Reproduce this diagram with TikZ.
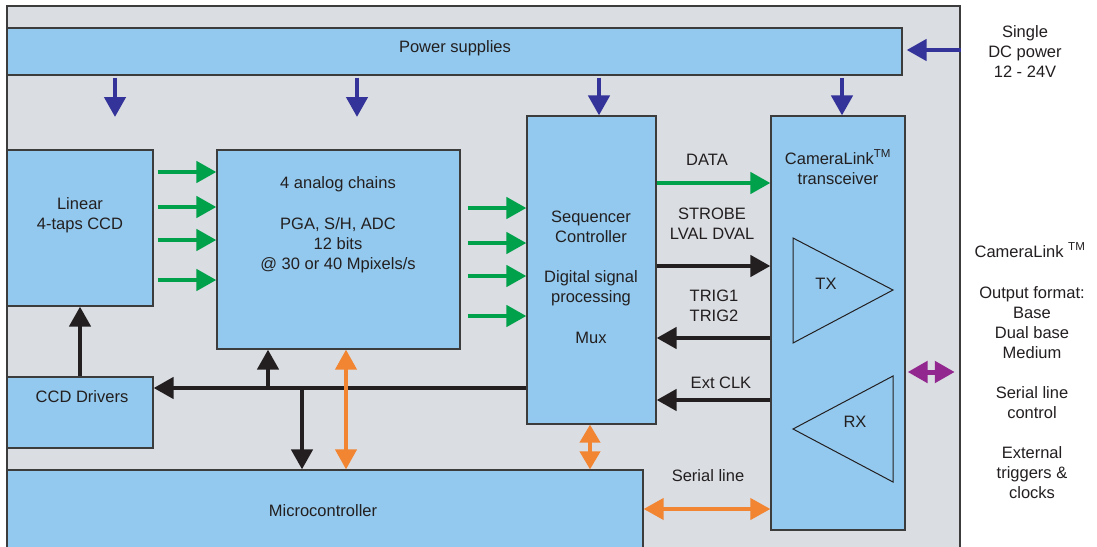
\documentclass[tikz,border=0pt]{standalone}
\usepackage{fontspec}
\setmainfont{Liberation Sans}
\usetikzlibrary{arrows.meta}
\definecolor{boxblue}{HTML}{93C9EE}
\definecolor{bggray}{HTML}{DADDE2}
\definecolor{edge}{HTML}{3C3C3C}
\definecolor{navyarr}{HTML}{333399}
\definecolor{greenarr}{HTML}{00A14B}
\definecolor{blackarr}{HTML}{231F20}
\definecolor{orangearr}{HTML}{F28532}
\definecolor{purplearr}{HTML}{92278F}
\definecolor{txt}{HTML}{231F20}
\begin{document}
\begin{tikzpicture}[x=1pt,y=-1pt,
  box/.style={draw=edge, fill=boxblue, line width=1.2pt, rectangle, inner sep=0pt},
  lbl/.style={text=txt, align=center, inner sep=0pt, font=\fontsize{16.5}{20}\selectfont},
  tip/.style={-{Triangle[length=20pt,width=21pt]}},
  dtip/.style={{Triangle[length=20pt,width=21pt]}-{Triangle[length=20pt,width=21pt]}},
  pwr/.style={navyarr, line width=4.5pt, tip},
  grn/.style={greenarr, line width=4.5pt, tip},
  blk/.style={blackarr, line width=4.5pt, tip},
  org/.style={orangearr, line width=4pt, dtip},
  pur/.style={purplearr, line width=5pt, dtip},
  tri/.style={draw=blackarr, line width=1pt}
]
\useasboundingbox (0,0) rectangle (1097,546);
\clip (0,0) rectangle (1097,546);
\fill[white] (0,0) rectangle (1097,546);

% frame
\node[draw=edge, fill=bggray, line width=1.5pt, rectangle, inner sep=0pt,
      minimum width=953pt, minimum height=564pt] (frame) at (483.5,288) {};

% boxes
\node[box, minimum width=895pt, minimum height=47pt] (ps) at (454.5,51.5) {};
\node[box, minimum width=146pt, minimum height=156pt] (lin) at (80,228) {};
\node[box, minimum width=243pt, minimum height=199pt] (ana) at (338.5,249.5) {};
\node[box, minimum width=129pt, minimum height=308pt] (seq) at (591.5,270) {};
\node[box, minimum width=134pt, minimum height=414pt] (cl) at (838,323) {};
\node[box, minimum width=146pt, minimum height=71pt] (drv) at (80,412.5) {};
\node[box, minimum width=636pt, minimum height=110pt] (mcu) at (325,525) {};

% TX / RX triangles
\draw[tri] (793,238) -- (793,343) -- (893,290) -- cycle;
\draw[tri] (893,376) -- (893,482) -- (793,429) -- cycle;

% power arrows
\coordinate (p1) at (115,117);
\coordinate (p2) at (357,117);
\draw[pwr, shorten <=2pt] (ps.south -| p1) -- (p1);
\draw[pwr, shorten <=2pt] (ps.south -| p2) -- (p2);
\draw[pwr, shorten <=2pt] (ps.south -| 599,0) -- (seq.north -| 599,0);
\draw[pwr, shorten <=2pt] (ps.south -| 842,0) -- (cl.north -| 842,0);
\draw[pwr, shorten >=4pt] (frame.east |- 0,50) -- (ps.east |- 0,50);

% CCD -> analog chains
\foreach \y in {172,207,240,280}
  \draw[grn, shorten <=4pt] (lin.east |- 0,\y) -- (ana.west |- 0,\y);
% analog chains -> sequencer
\foreach \y in {208,243,276,316}
  \draw[grn, shorten <=7pt] (ana.east |- 0,\y) -- (seq.west |- 0,\y);

% sequencer <-> transceiver
\draw[grn] (seq.east |- 0,183) -- (cl.west |- 0,183);
\draw[blk] (seq.east |- 0,266) -- (cl.west |- 0,266);
\draw[blk] (cl.west |- 0,338) -- (seq.east |- 0,338);
\draw[blk] (cl.west |- 0,400) -- (seq.east |- 0,400);

% bus
\coordinate (bA) at (268,388);
\coordinate (bB) at (302,388);
\draw[blk] (seq.west |- 0,388) -- (drv.east |- 0,388);
\draw[blk] (bA) -- (ana.south -| bA);
\draw[blk] (bB) -- (mcu.north -| bB);
\draw[blk] (drv.north) -- (lin.south);

% orange links
\draw[org] (ana.south -| 346,0) -- (mcu.north -| 346,0);
\draw[orangearr, line width=4pt, {Triangle[length=18pt,width=20pt]}-{Triangle[length=18pt,width=20pt]}]
  (seq.south -| 590,0) -- (mcu.north -| 590,0);
\draw[org] (mcu.east |- 0,509) -- (cl.west |- 0,509);

% purple
\draw[pur, shorten <=2pt, shorten >=6pt] (cl.east |- 0,372) -- (frame.east |- 0,372);

% labels
\node[lbl] (tps) at (455,48) {Power supplies};
\node[lbl] (tlin) at (80,215) {Linear\\4-taps CCD};
\node[lbl] (tana1) at (338,184) {4 analog chains};
\node[lbl] (tana2) at (338,245) {PGA, S/H, ADC\\12 bits\\@ 30 or 40 Mpixels/s};
\node[lbl] (tseq1) at (591,227) {Sequencer\\Controller};
\node[lbl] (tseq2) at (591,288) {Digital signal\\processing};
\node[lbl] (tseq3) at (591,338) {Mux};
\node[lbl] (tcl) at (838,167) {CameraLink\textsuperscript{TM}\\transceiver};
\node[lbl] (ttx) at (826,284) {TX};
\node[lbl] (trx) at (855,422) {RX};
\node[lbl] (tdata) at (707,160) {DATA};
\node[lbl] (tstr) at (712,224) {STROBE\\LVAL DVAL};
\node[lbl] (ttrig) at (714,306) {TRIG1\\TRIG2};
\node[lbl] (tclk) at (721,383) {Ext CLK};
\node[lbl] (tser) at (708,476) {Serial line};
\node[lbl] (tdrv) at (82,397) {CCD Drivers};
\node[lbl] (tmcu) at (323,511) {Microcontroller};
\node[lbl] (tdc) at (1025,52) {Single\\DC power\\12 - 24V};
\node[lbl] (tcl2) at (1030,250) {CameraLink \textsuperscript{TM}};
\node[lbl] (tout) at (1032,323) {Output format:\\Base\\Dual base\\Medium};
\node[lbl] (tsl) at (1032,403) {Serial line\\control};
\node[lbl] (txtrig) at (1032,473) {External\\triggers \&\\clocks};
\end{tikzpicture}
\end{document}
